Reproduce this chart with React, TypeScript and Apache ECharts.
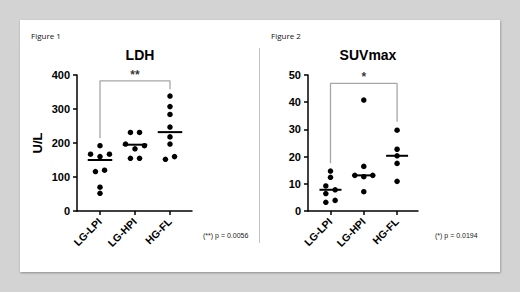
import React, { useEffect, useRef } from 'react';
import * as echarts from 'echarts';

const categories = ['LG-LPI', 'LG-HPI', 'HG-FL'];

// LDH (U/L) individual values per group
const ldhValues = [
  [192, 167, 160, 167, 116, 120, 70, 52],
  [231, 231, 197, 183, 192, 155, 155],
  [338, 307, 284, 247, 218, 197, 152, 160],
];
// horizontal scatter offsets (category units)
const ldhJitter = [
  [0, -0.27, 0, 0.27, -0.13, 0.13, 0, 0],
  [-0.13, 0.13, -0.27, 0, 0.27, -0.13, 0.13],
  [0, 0, 0, 0, 0, 0, -0.13, 0.13],
];
const ldhMedians = [150, 195, 232];
const ldhTicks = [0, 100, 200, 300, 400];
const ldhBracket = [[1, 214], [1, 383], [3, 383], [3, 358]];
const ldhStar = '**';
const ldhP = '(**) p = 0.0056';

// SUVmax individual values per group
const suvValues = [
  [14.7, 12.4, 9.2, 7.8, 6.4, 3.2, 3.9],
  [40.8, 16.4, 13.1, 12.6, 13.1, 7.1],
  [29.7, 22.7, 20.3, 17.5, 10.9],
];
const suvJitter = [
  [0, 0, -0.14, 0.14, -0.14, -0.14, 0.14],
  [0, 0, -0.27, 0, 0.27, 0],
  [0, 0, 0, 0, 0],
];
const suvMedians = [7.8, 13.1, 20.3];
const suvTicks = [0, 10, 20, 30, 40, 50];
const suvBracket = [[1, 17.6], [1, 46.9], [3, 46.9], [3, 32.8]];
const suvStar = '*';
const suvP = '(*) p = 0.0194';

const FONT = 'Liberation Sans, Arial, sans-serif';

function buildPoints(values: number[][], jitter: number[][]) {
  const pts: number[][] = [];
  values.forEach((grp, i) => grp.forEach((v, j) => pts.push([i + 1 + jitter[i][j], v])));
  return pts;
}

function axesFor(idx: number, yMax: number, yInterval: number, xMin: number, xMax: number, yName: string) {
  const x = {
    type: 'value',
    gridIndex: idx,
    min: xMin,
    max: xMax,
    splitLine: { show: false },
    axisLine: { show: true, onZero: false, lineStyle: { color: '#000', width: 1.5 } },
    axisTick: { show: true, customValues: [1, 2, 3], length: 4, lineStyle: { color: '#000', width: 1.5 } },
    axisLabel: {
      customValues: [1, 2, 3],
      formatter: (v: number) => categories[Math.round(v) - 1] ?? '',
      rotate: 45,
      margin: 9,
      color: '#000',
      fontSize: 10.5,
      fontWeight: 'bold',
      fontFamily: FONT,
    },
  };
  const y = {
    type: 'value',
    gridIndex: idx,
    min: 0,
    max: yMax,
    interval: yInterval,
    name: yName,
    nameLocation: 'middle',
    nameRotate: 90,
    nameGap: 33,
    nameTextStyle: { color: '#000', fontSize: 13, fontWeight: 'bold', fontFamily: FONT },
    splitLine: { show: false },
    axisLine: { show: true, onZero: false, lineStyle: { color: '#000', width: 1.5 } },
    axisTick: { show: true, length: 4, lineStyle: { color: '#000', width: 1.5 } },
    axisLabel: { margin: 7, color: '#000', fontSize: 11, fontWeight: 'bold', fontFamily: FONT },
  };
  return { x, y };
}

function seriesFor(idx: number, values: number[][], jitter: number[][], medians: number[], bracket: number[][], star: string, halfW: number) {
  return [
    {
      type: 'line',
      xAxisIndex: idx,
      yAxisIndex: idx,
      data: bracket,
      symbol: 'none',
      lineStyle: { color: '#a6a6a6', width: 1.3 },
      silent: true,
      z: 1,
    },
    {
      type: 'scatter',
      xAxisIndex: idx,
      yAxisIndex: idx,
      data: [[2, bracket[1][1]]],
      symbolSize: 0,
      clip: false,
      label: {
        show: true,
        position: 'top',
        distance: 0,
        formatter: star,
        color: '#000',
        fontSize: 12,
        fontWeight: 'bold',
        fontFamily: FONT,
      },
    },
    {
      type: 'scatter',
      xAxisIndex: idx,
      yAxisIndex: idx,
      data: buildPoints(values, jitter),
      symbol: 'circle',
      symbolSize: 5.5,
      itemStyle: { color: '#000', opacity: 1 },
      clip: false,
      z: 3,
    },
    {
      type: 'custom',
      xAxisIndex: idx,
      yAxisIndex: idx,
      data: medians.map((m, i) => [i + 1, m]),
      renderItem: (_params: any, api: any) => {
        const cx = api.value(0);
        const cy = api.value(1);
        const p1 = api.coord([cx - halfW, cy]);
        const p2 = api.coord([cx + halfW, cy]);
        return {
          type: 'line',
          shape: { x1: p1[0], y1: p1[1], x2: p2[0], y2: p2[1] },
          style: { stroke: '#000', lineWidth: 2 },
        };
      },
      z: 4,
    },
  ];
}

export default function App() {
  const ref = useRef<HTMLDivElement>(null);

  useEffect(() => {
    if (!ref.current) return;
    const chart = echarts.init(ref.current, null, { renderer: 'svg' });
    const a0 = axesFor(0, ldhTicks[ldhTicks.length - 1], ldhTicks[1] - ldhTicks[0], 0.343, 3.629, 'U/L');
    const a1 = axesFor(1, suvTicks[suvTicks.length - 1], suvTicks[1] - suvTicks[0], 0.325, 3.628, '');

    const smallText = { fill: '#222', fontSize: 7, fontFamily: FONT };
    const figText = { fill: '#111', fontSize: 8, fontFamily: 'Open Sans, Noto Sans, sans-serif' };

    chart.setOption({
      animation: false,
      backgroundColor: '#d4d3d3',
      title: [
        {
          text: 'LDH',
          left: 135,
          top: 43,
          textAlign: 'center',
          textStyle: { color: '#000', fontSize: 14, fontWeight: 'bold', fontFamily: FONT },
        },
        {
          text: 'SUVmax',
          left: 363,
          top: 43,
          textAlign: 'center',
          textStyle: { color: '#000', fontSize: 14, fontWeight: 'bold', fontFamily: FONT },
        },
      ],
      graphic: [
        {
          type: 'rect',
          z: -10,
          shape: { x: 20, y: 20, width: 480, height: 252 },
          style: { fill: '#fff', shadowBlur: 2, shadowOffsetY: 1, shadowOffsetX: 0.5, shadowColor: 'rgba(0,0,0,0.35)' },
        },
        {
          type: 'line',
          z: -9,
          shape: { x1: 259.5, y1: 48, x2: 259.5, y2: 243 },
          style: { stroke: '#c4c4c4', lineWidth: 1 },
        },
        { type: 'text', x: 31, y: 31, style: { ...figText, text: 'Figure 1' } },
        { type: 'text', x: 271, y: 31, style: { ...figText, text: 'Figure 2' } },
        { type: 'text', x: 203, y: 232, style: { ...smallText, text: ldhP } },
        { type: 'text', x: 435, y: 232, style: { ...smallText, text: suvP } },
      ],
      grid: [
        { left: 77, top: 75, width: 115, height: 136 },
        { left: 308, top: 75, width: 110, height: 136 },
      ],
      xAxis: [a0.x, a1.x],
      yAxis: [a0.y, a1.y],
      series: [
        ...seriesFor(0, ldhValues, ldhJitter, ldhMedians, ldhBracket, ldhStar, 0.35),
        ...seriesFor(1, suvValues, suvJitter, suvMedians, suvBracket, suvStar, 0.33),
      ],
    } as any);
    return () => chart.dispose();
  }, []);

  return (
    <div
      ref={ref}
      style={{ position: 'fixed', left: 0, top: 0, width: 520, height: 292 }}
    />
  );
}
